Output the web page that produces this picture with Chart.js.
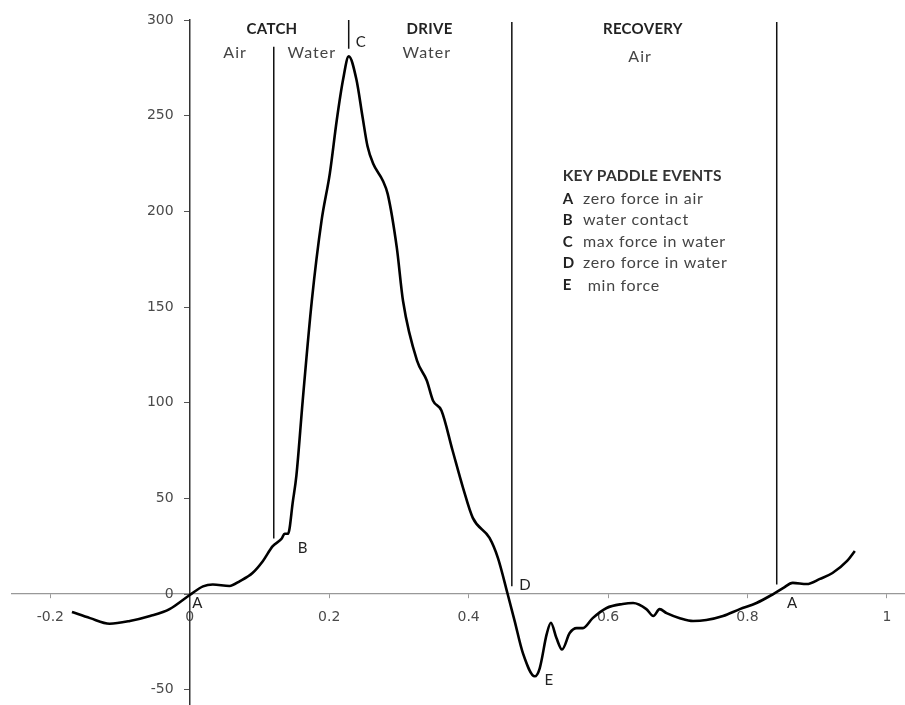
<!DOCTYPE html>
<html>
<head>
<meta charset="utf-8">
<script src="https://cdn.jsdelivr.net/npm/chart.js@4/dist/chart.umd.min.js"></script>
<style>
  html, body { margin: 0; padding: 0; background: #fff; overflow: hidden; }
  #wrap { width: 905px; height: 705px; }
</style>
</head>
<body>
<div id="wrap"><canvas id="forceChart"></canvas></div>
<script>
// stroke cycle fraction vs paddle force
const strokeTime = [-0.169, -0.143, -0.115, -0.086, -0.057, -0.029, 0, 0.019, 0.033, 0.057, 0.072, 0.090, 0.105, 0.119, 0.132, 0.136, 0.141, 0.148, 0.153, 0.162, 0.175, 0.189, 0.201, 0.211, 0.220, 0.228, 0.239, 0.248, 0.255, 0.263, 0.277, 0.284, 0.297, 0.306, 0.326, 0.340, 0.349, 0.361, 0.377, 0.392, 0.406, 0.430, 0.442, 0.456, 0.466, 0.478, 0.495, 0.502, 0.512, 0.518, 0.526, 0.534, 0.545, 0.555, 0.564, 0.578, 0.598, 0.621, 0.636, 0.655, 0.665, 0.674, 0.684, 0.703, 0.722, 0.741, 0.765, 0.789, 0.813, 0.837, 0.851, 0.865, 0.885, 0.904, 0.922, 0.943, 0.954];
const paddleForce = [-9.4, -12.6, -15.5, -14.1, -11.5, -7.9, -0.5, 4, 5, 4.2, 6.8, 11, 17.3, 25, 29, 31.5, 31.5, 48.7, 62, 101, 153, 195, 220, 248, 269, 281, 269, 249, 234, 225, 216, 209, 181, 153, 122, 111.6, 101, 95.9, 75, 55.5, 39.8, 29.3, 18.9, 0, -14, -31, -43, -38.8, -21, -15, -23, -29, -20.4, -17.8, -17.8, -12.6, -7.3, -5.2, -4.7, -7.9, -11.5, -7.9, -10, -12.6, -14.1, -13.6, -11.5, -7.9, -4.7, 0, 3.1, 5.8, 5.2, 7.9, 11, 17.3, 22.5];

// phase divider lines: x, top, bottom
const dividerX = [0.1205, 0.228, 0.462, 0.842];
const dividerTop = [286, 300, 299, 299];
const dividerBottom = [29, 285, 4, 5];

const phaseLabels = ['CATCH', 'DRIVE', 'RECOVERY'];
const subLabels = ['Air', 'Water', 'Water', 'Air'];
const keyTitle = 'KEY PADDLE EVENTS';
const keyLetters = ['A', 'B', 'C', 'D', 'E'];
const keyTexts = ['zero force in air', 'water contact', 'max force in water', 'zero force in water', ' min force'];
const eventLetters = ['A', 'B', 'D', 'E', 'A'];

const curve = strokeTime.map((t, i) => ({ x: t, y: paddleForce[i] }));
const dividers = dividerX.map((x, i) => ({
    type: 'line',
    data: [{ x: x, y: dividerTop[i] }, { x: x, y: dividerBottom[i] }],
    borderColor: '#111',
    borderWidth: 1.5,
    pointRadius: 0
}));

const textPlugin = {
    id: 'texts',
    afterDraw(chart) {
        const c = chart.ctx;
        const xs = chart.scales.x;
        const ys = chart.scales.y;
        const px = v => xs.getPixelForValue(v);
        const py = v => ys.getPixelForValue(v);
        c.save();
        c.textBaseline = 'middle';

        c.font = 'bold 15px Lato';
        c.fillStyle = '#222';
        c.textAlign = 'center';
        c.letterSpacing = '0.3px';
        [0.118, 0.344, 0.650].forEach((x, i) => c.fillText(phaseLabels[i], px(x), py(295)));

        c.font = '16px Lato';
        c.fillStyle = '#444';
        c.letterSpacing = '1px';
        [0.065, 0.175, 0.340, 0.646].forEach((x, i) => c.fillText(subLabels[i], px(x), py(i === 3 ? 281 : 283)));

        c.textAlign = 'left';
        c.fillStyle = '#222';
        c.letterSpacing = '0px';
        c.font = '15px Lato';
        c.fillText('C', px(0.238), py(288.6));

        // key
        c.font = 'bold 15.5px Lato';
        c.fillStyle = '#333';
        c.letterSpacing = '0.2px';
        c.fillText(keyTitle, px(0.535), py(218.4));
        const rows = [206.4, 195.4, 183.9, 172.9, 161.3];
        rows.forEach((r, i) => {
            c.font = 'bold 15px Lato';
            c.fillStyle = '#222';
            c.letterSpacing = '0px';
            c.fillText(keyLetters[i], px(0.535), py(r));
            c.font = '16px Lato';
            c.fillStyle = '#444';
            c.letterSpacing = '0.7px';
            c.fillText(keyTexts[i], px(0.564), py(r));
        });

        // event letters on the curve
        c.font = '15px Lato';
        c.fillStyle = '#222';
        c.letterSpacing = '0px';
        c.textAlign = 'center';
        const evX = [0.011, 0.162, 0.481, 0.515, 0.864];
        const evY = [-4.7, 24, 4.7, -45, -4.7];
        eventLetters.forEach((l, i) => c.fillText(l, px(evX[i]), py(evY[i])));
        c.restore();
    }
};

// axes sit inside the plot, so they should not push the chart area in
const noScalePadding = s => { s.paddingTop = 0; s.paddingBottom = 0; s.paddingLeft = 0; s.paddingRight = 0; };

new Chart(document.getElementById('forceChart'), {
    type: 'scatter',
    data: {
        datasets: [{
            type: 'line',
            data: curve,
            borderColor: '#000',
            borderWidth: 2.6,
            pointRadius: 0,
            cubicInterpolationMode: 'monotone'
        }].concat(dividers)
    },
    options: {
        responsive: true,
        maintainAspectRatio: false,
        animation: false,
        layout: { padding: { left: 12, right: 0, top: 20, bottom: 0 } },
        plugins: { legend: { display: false }, tooltip: { enabled: false } },
        scales: {
            x: {
                type: 'linear',
                position: { y: 0 },
                min: -0.255,
                max: 1.026,
                afterFit: noScalePadding,
                grid: { drawOnChartArea: false, drawTicks: true, tickLength: 4, color: '#999' },
                border: { color: '#999', width: 1.2 },
                ticks: {
                    stepSize: 0.2,
                    includeBounds: false,
                    padding: 11,
                    color: '#4a4a4a',
                    font: { family: 'DejaVu Sans', size: 14 },
                    maxRotation: 0,
                    callback: v => String(+v.toFixed(2))
                }
            },
            y: {
                type: 'linear',
                position: { x: 0 },
                min: -58,
                max: 300,
                afterFit: noScalePadding,
                grid: { drawOnChartArea: false, drawTicks: true, tickLength: 5, color: '#555' },
                border: { color: '#333', width: 1.5 },
                ticks: {
                    stepSize: 50,
                    includeBounds: false,
                    color: '#4a4a4a',
                    font: { family: 'DejaVu Sans', size: 14 },
                    callback: v => v + '   \u2009'
                }
            }
        }
    },
    plugins: [textPlugin]
});
</script>
</body>
</html>
